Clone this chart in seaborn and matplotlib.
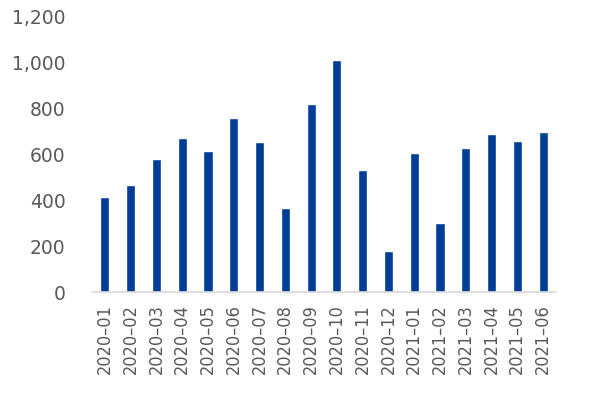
import matplotlib
matplotlib.use("Agg")
import matplotlib.pyplot as plt
import seaborn as sns
import pandas as pd

months = ["2020–01", "2020–02", "2020–03", "2020–04", "2020–05", "2020–06",
          "2020–07", "2020–08", "2020–09", "2020–10", "2020–11", "2020–12",
          "2021–01", "2021–02", "2021–03", "2021–04", "2021–05", "2021–06"]
values = [412, 465, 578, 671, 613, 755, 651, 364, 819, 1009, 530, 178,
          603, 299, 626, 686, 658, 694]
yticks = [0, 200, 400, 600, 800, 1000, 1200]

sns.set_theme(style="white")
plt.rcParams['font.family'] = ['DejaVu Sans']

df = pd.DataFrame({"month": months, "value": values})

fig = plt.figure(figsize=(6, 3.99), dpi=100)
ax = fig.add_axes([92/600, 1-292/399, (556-92)/600, (292-16)/399])
sns.barplot(data=df, x="month", y="value", color="#003D96", width=0.35,
            saturation=1, ax=ax)
ax.set_xlim(-0.5, len(months) - 0.5)
ax.set_ylim(0, 1200)
ax.set_yticks(yticks)
ax.set_yticklabels([f"{v:,}" for v in yticks])
ax.set_xlabel("")
ax.set_ylabel("")
ax.tick_params(axis="x", rotation=90, colors="#595959", length=0, pad=9)
ax.tick_params(axis="y", labelsize=13.5, colors="#595959", length=0, pad=19)
for lab in ax.get_xticklabels():
    lab.set_fontfamily("DejaVu Sans")
    lab.set_fontstretch("condensed")
    lab.set_fontsize(13)
for s in ["top", "right", "left"]:
    ax.spines[s].set_visible(False)
ax.spines["bottom"].set_color("#D9D9D9")
ax.spines["bottom"].set_linewidth(1.2)

fig.savefig("out.png", dpi=100)
